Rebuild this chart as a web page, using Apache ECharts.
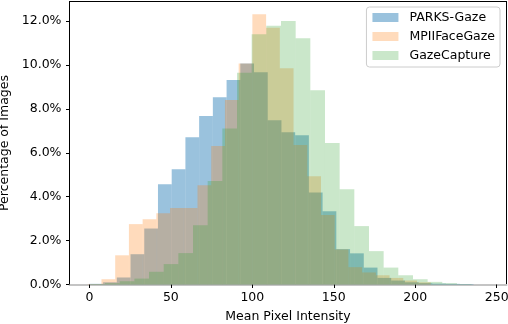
<!DOCTYPE html>
<html style="height: 100%">
   <head>
       <meta charset="utf-8">
   </head>
   <body style="height: 100%; margin: 0">
       <div id="container" style="width: 508px; height: 324px"></div>
       <script type="text/javascript" src="https://cdn.jsdelivr.net/npm/echarts@6/dist/echarts.min.js"></script>
       <script type="text/javascript">
// histogram bins: left edge of first bin, bin width, then percentage per bin
var parksStart = 0, parksWidth = 8.42;
var parksValues = [0.03, 0.10, 0.32, 1.38, 2.55, 4.57, 5.25, 6.71, 7.67, 8.53, 9.31, 10.07, 9.67, 7.48,
                   6.93, 6.80, 4.19, 3.34, 1.61, 1.42, 0.77, 0.30, 0.18, 0.10, 0.06, 0.04, 0.03, 0.02];
var mpiiStart = -1.0, mpiiWidth = 8.42;
var mpiiValues = [0.02, 0.24, 1.33, 2.75, 2.97, 3.25, 3.49, 3.49, 4.52, 6.31, 8.40, 10.07, 12.31, 11.70,
                  9.85, 6.35, 4.93, 3.16, 1.60, 0.79, 0.55, 0.42, 0.30, 0.18, 0.10];
var gazeStart = 0.6, gazeWidth = 9;
var gazeValues = [0.02, 0.06, 0.15, 0.27, 0.58, 0.93, 1.43, 2.70, 4.71, 7.11, 9.64, 11.40, 11.78, 12.00,
                  11.22, 8.85, 6.45, 4.34, 2.66, 1.52, 0.77, 0.42, 0.24, 0.12, 0.06, 0.02];
var seriesNames = ['PARKS-Gaze', 'MPIIFaceGaze', 'GazeCapture'];
var xTicks = [0, 50, 100, 150, 200, 250];
var yTicks = [0, 2, 4, 6, 8, 10, 12];

var colors = ['rgba(31,119,180,0.45)', 'rgba(255,127,14,0.28)', 'rgba(44,160,44,0.25)'];
var font = 'DejaVu Sans';
var fs = 12.5;

function binData(start, width, values) {
    return values.map(function (v, i) {
        return [start + i * width, start + (i + 1) * width, v];
    });
}

function histSeries(name, data, color) {
    return {
        name: name,
        type: 'custom',
        xAxisIndex: 0,
        yAxisIndex: 0,
        itemStyle: {color: color},
        encode: {x: [0, 1], y: 2},
        silent: true,
        data: data,
        renderItem: function (params, api) {
            var p0 = api.coord([api.value(0), api.value(2)]);
            var p1 = api.coord([api.value(1), 0]);
            return {
                type: 'rect',
                shape: {x: p0[0], y: p0[1], width: p1[0] - p0[0], height: p1[1] - p0[1]},
                style: {fill: color}
            };
        }
    };
}

var dom = document.getElementById("container");
var myChart = echarts.init(dom);
var xMin = -12.2, xMax = 256, yMax = 12.89;

var option = {
    animation: false,
    grid: {left: 69.5, right: 1.5, top: 1.5, bottom: 39.5, outerBoundsMode: 'none'},
    legend: {
        orient: 'vertical',
        right: 8,
        top: 7,
        padding: [4, 5, 5, 6],
        itemWidth: 26,
        itemHeight: 9,
        itemGap: 6,
        icon: 'rect',
        backgroundColor: 'rgba(255,255,255,0.8)',
        borderColor: '#cccccc',
        borderWidth: 1,
        borderRadius: 3,
        textStyle: {fontFamily: font, fontSize: fs, color: '#000', padding: [0, 0, 0, 6]},
        data: seriesNames.map(function (n, i) {
            return {name: n, itemStyle: {color: colors[i]}};
        })
    },
    xAxis: [{
        type: 'value',
        min: xMin,
        max: xMax,
        name: 'Mean Pixel Intensity',
        nameLocation: 'middle',
        nameGap: 26,
        nameTextStyle: {fontFamily: font, fontSize: fs, color: '#000'},
        splitLine: {show: false},
        axisLine: {lineStyle: {color: '#c4c4c4', width: 2}},
        axisTick: {length: 3.5, lineStyle: {color: '#000'}, customValues: xTicks},
        axisLabel: {margin: 7, fontFamily: font, fontSize: fs, color: '#000', customValues: xTicks}
    }, {
        type: 'value',
        position: 'top',
        min: xMin,
        max: xMax,
        splitLine: {show: false},
        axisLine: {onZero: false, lineStyle: {color: '#000', width: 1}},
        axisTick: {show: false},
        axisLabel: {show: false}
    }],
    yAxis: [{
        type: 'value',
        min: 0,
        max: yMax,
        name: 'Percentage of Images',
        nameLocation: 'middle',
        nameGap: 53,
        nameTextStyle: {fontFamily: font, fontSize: fs, color: '#000'},
        splitLine: {show: false},
        axisLine: {show: true, onZero: false, lineStyle: {color: '#000', width: 1}},
        axisTick: {show: true, length: 3.5, lineStyle: {color: '#000'}, customValues: yTicks},
        axisLabel: {
            margin: 8, fontFamily: font, fontSize: fs, color: '#000', customValues: yTicks,
            formatter: function (v) { return v.toFixed(1) + '%'; }
        }
    }, {
        type: 'value',
        position: 'right',
        min: 0,
        max: yMax,
        splitLine: {show: false},
        axisLine: {show: true, onZero: false, lineStyle: {color: '#000', width: 1}},
        axisTick: {show: false},
        axisLabel: {show: false}
    }],
    series: [
        histSeries(seriesNames[0], binData(parksStart, parksWidth, parksValues), colors[0]),
        histSeries(seriesNames[1], binData(mpiiStart, mpiiWidth, mpiiValues), colors[1]),
        histSeries(seriesNames[2], binData(gazeStart, gazeWidth, gazeValues), colors[2])
    ]
};

myChart.setOption(option);
       </script>
   </body>
</html>
